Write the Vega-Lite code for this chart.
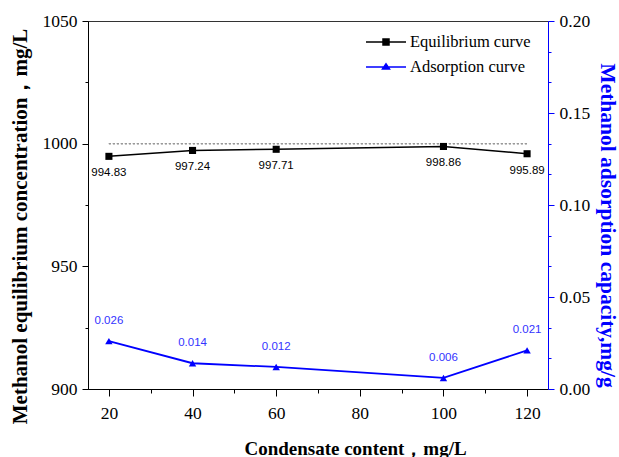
{
  "$schema": "https://vega.github.io/schema/vega-lite/v6.json",
  "width": 460,
  "height": 368,
  "autosize": {"type": "none"},
  "padding": {"left": 88, "top": 21, "right": 71, "bottom": 68},
  "background": "white",
  "config": {
    "view": {"stroke": "#333", "strokeWidth": 1},
    "axis": {"grid": false, "labelFont": "Liberation Serif", "labelFontSize": 17.5, "labelColor": "black", "titleFont": "Liberation Serif", "titleFontWeight": "bold", "labelOverlap": false, "labelFlush": false, "domainWidth": 1, "tickWidth": 1}
  },
  "data": {"values": [
    {"c": 20, "eq": 994.83, "ad": 0.026},
    {"c": 40, "eq": 997.24, "ad": 0.014},
    {"c": 60, "eq": 997.71, "ad": 0.012},
    {"c": 100, "eq": 998.86, "ad": 0.006},
    {"c": 120, "eq": 995.89, "ad": 0.021}
  ]},
  "layer": [
    {
      "encoding": {
        "x": {"field": "c", "type": "quantitative", "scale": {"domain": [15, 125], "nice": false, "zero": false},
          "axis": {"title": "Condensate content，mg/L", "values": [20, 30, 40, 50, 60, 70, 80, 90, 100, 110, 120],
            "labelExpr": "datum.value % 20 === 0 ? format(datum.value, 'd') : ''",
            "tickSize": {"condition": {"test": "datum.value % 20 === 0", "value": 7}, "value": 4},
            "labelPadding": 8, "domainColor": "black", "tickColor": "black",
            "titleFontSize": 19, "titleX": 267, "titleY": 65, "titleBaseline": "alphabetic", "titleColor": "black"}},
        "y": {"type": "quantitative", "scale": {"domain": [900, 1050], "nice": false, "zero": false},
          "axis": {"orient": "left", "title": "Methanol equilibrium concentration，mg/L",
            "values": [900, 925, 950, 975, 1000, 1025, 1050],
            "labelExpr": "datum.value % 50 === 0 ? format(datum.value, 'd') : ''",
            "tickSize": {"condition": {"test": "datum.value % 50 === 0", "value": 6}, "value": 3},
            "labelPadding": 5, "domainColor": "black", "tickColor": "black",
            "titleFontSize": 21, "titleAngle": -90, "titleX": -62, "titleY": 205, "titleBaseline": "alphabetic", "titleAlign": "center", "titleColor": "black"}}
      },
      "layer": [
        {"mark": {"type": "rule", "color": "#999", "strokeDash": [2, 2], "strokeWidth": 1},
         "encoding": {"x": {"datum": 20}, "x2": {"datum": 120}, "y": {"datum": 1000}}},
        {"mark": {"type": "line", "strokeWidth": 1.5},
         "encoding": {"y": {"field": "eq"}, "color": {"datum": "Equilibrium curve", "scale": {"domain": ["Equilibrium curve", "Adsorption curve"], "range": ["black", "#0000ff"]},
           "legend": {"orient": "none", "legendX": 287, "legendY": 10, "title": null, "symbolSize": 400, "labelFont": "Liberation Serif", "labelFontSize": 16.5, "labelColor": "black", "labelOffset": 13, "padding": 0, "rowPadding": 5,
             "encode": {"symbols": {"update": {
               "shape": {"signal": "datum.value === 'Equilibrium curve' ? 'M-2,0H2M-0.3,-0.3H0.3V0.3H-0.3Z' : 'M-2,0H2M-0.35,0.2L0,-0.32L0.35,0.2Z'"},
               "fill": {"signal": "datum.value === 'Equilibrium curve' ? 'black' : '#0000ff'"},
               "stroke": {"signal": "datum.value === 'Equilibrium curve' ? 'black' : '#0000ff'"},
               "strokeWidth": {"value": 1.5}, "opacity": {"value": 1}, "fillOpacity": {"value": 1}, "strokeOpacity": {"value": 1}}}}}}}},
        {"mark": {"type": "point", "shape": "square", "filled": true, "size": 50, "opacity": 1},
         "encoding": {"y": {"field": "eq"}, "color": {"datum": "Equilibrium curve"}}},
        {"mark": {"type": "text", "font": "Liberation Sans", "fontSize": 11.5, "dy": 17, "baseline": "middle", "align": "center", "color": "black"},
         "encoding": {"y": {"field": "eq"}, "text": {"field": "eq", "type": "quantitative", "format": ".2f"}}}
      ]
    },
    {
      "encoding": {
        "x": {"field": "c", "type": "quantitative"},
        "y": {"type": "quantitative", "scale": {"domain": [0, 0.2], "nice": false, "zero": false},
          "axis": {"orient": "right", "title": "Methanol adsorption capacity,mg/g",
            "values": [0, 0.016667, 0.033333, 0.05, 0.066667, 0.083333, 0.1, 0.116667, 0.133333, 0.15, 0.166667, 0.183333, 0.2],
            "labelExpr": "abs(datum.value*20 - round(datum.value*20)) < 0.001 ? format(datum.value, '.2f') : ''",
            "tickSize": {"condition": {"test": "abs(datum.value*20 - round(datum.value*20)) < 0.001", "value": 6}, "value": 3},
            "labelPadding": 5, "domainColor": "#0000ff", "tickColor": "#0000ff",
            "titleFontSize": 21.5, "titleAngle": 90, "titleX": 52, "titleY": 204, "titleBaseline": "alphabetic", "titleAlign": "center", "titleColor": "#0000ff"}}
      },
      "layer": [
        {"mark": {"type": "line", "strokeWidth": 1.8},
         "encoding": {"y": {"field": "ad"}, "color": {"datum": "Adsorption curve"}}},
        {"mark": {"type": "point", "shape": "triangle-up", "filled": true, "size": 55, "opacity": 1},
         "encoding": {"y": {"field": "ad"}, "color": {"datum": "Adsorption curve"}}},
        {"mark": {"type": "text", "font": "Liberation Sans", "fontSize": 11.5, "dy": -20, "baseline": "middle", "align": "center", "color": "#3333ff"},
         "encoding": {"y": {"field": "ad"}, "text": {"field": "ad", "type": "quantitative", "format": ".3f"}}}
      ]
    }
  ],
  "resolve": {"scale": {"y": "independent"}}
}
